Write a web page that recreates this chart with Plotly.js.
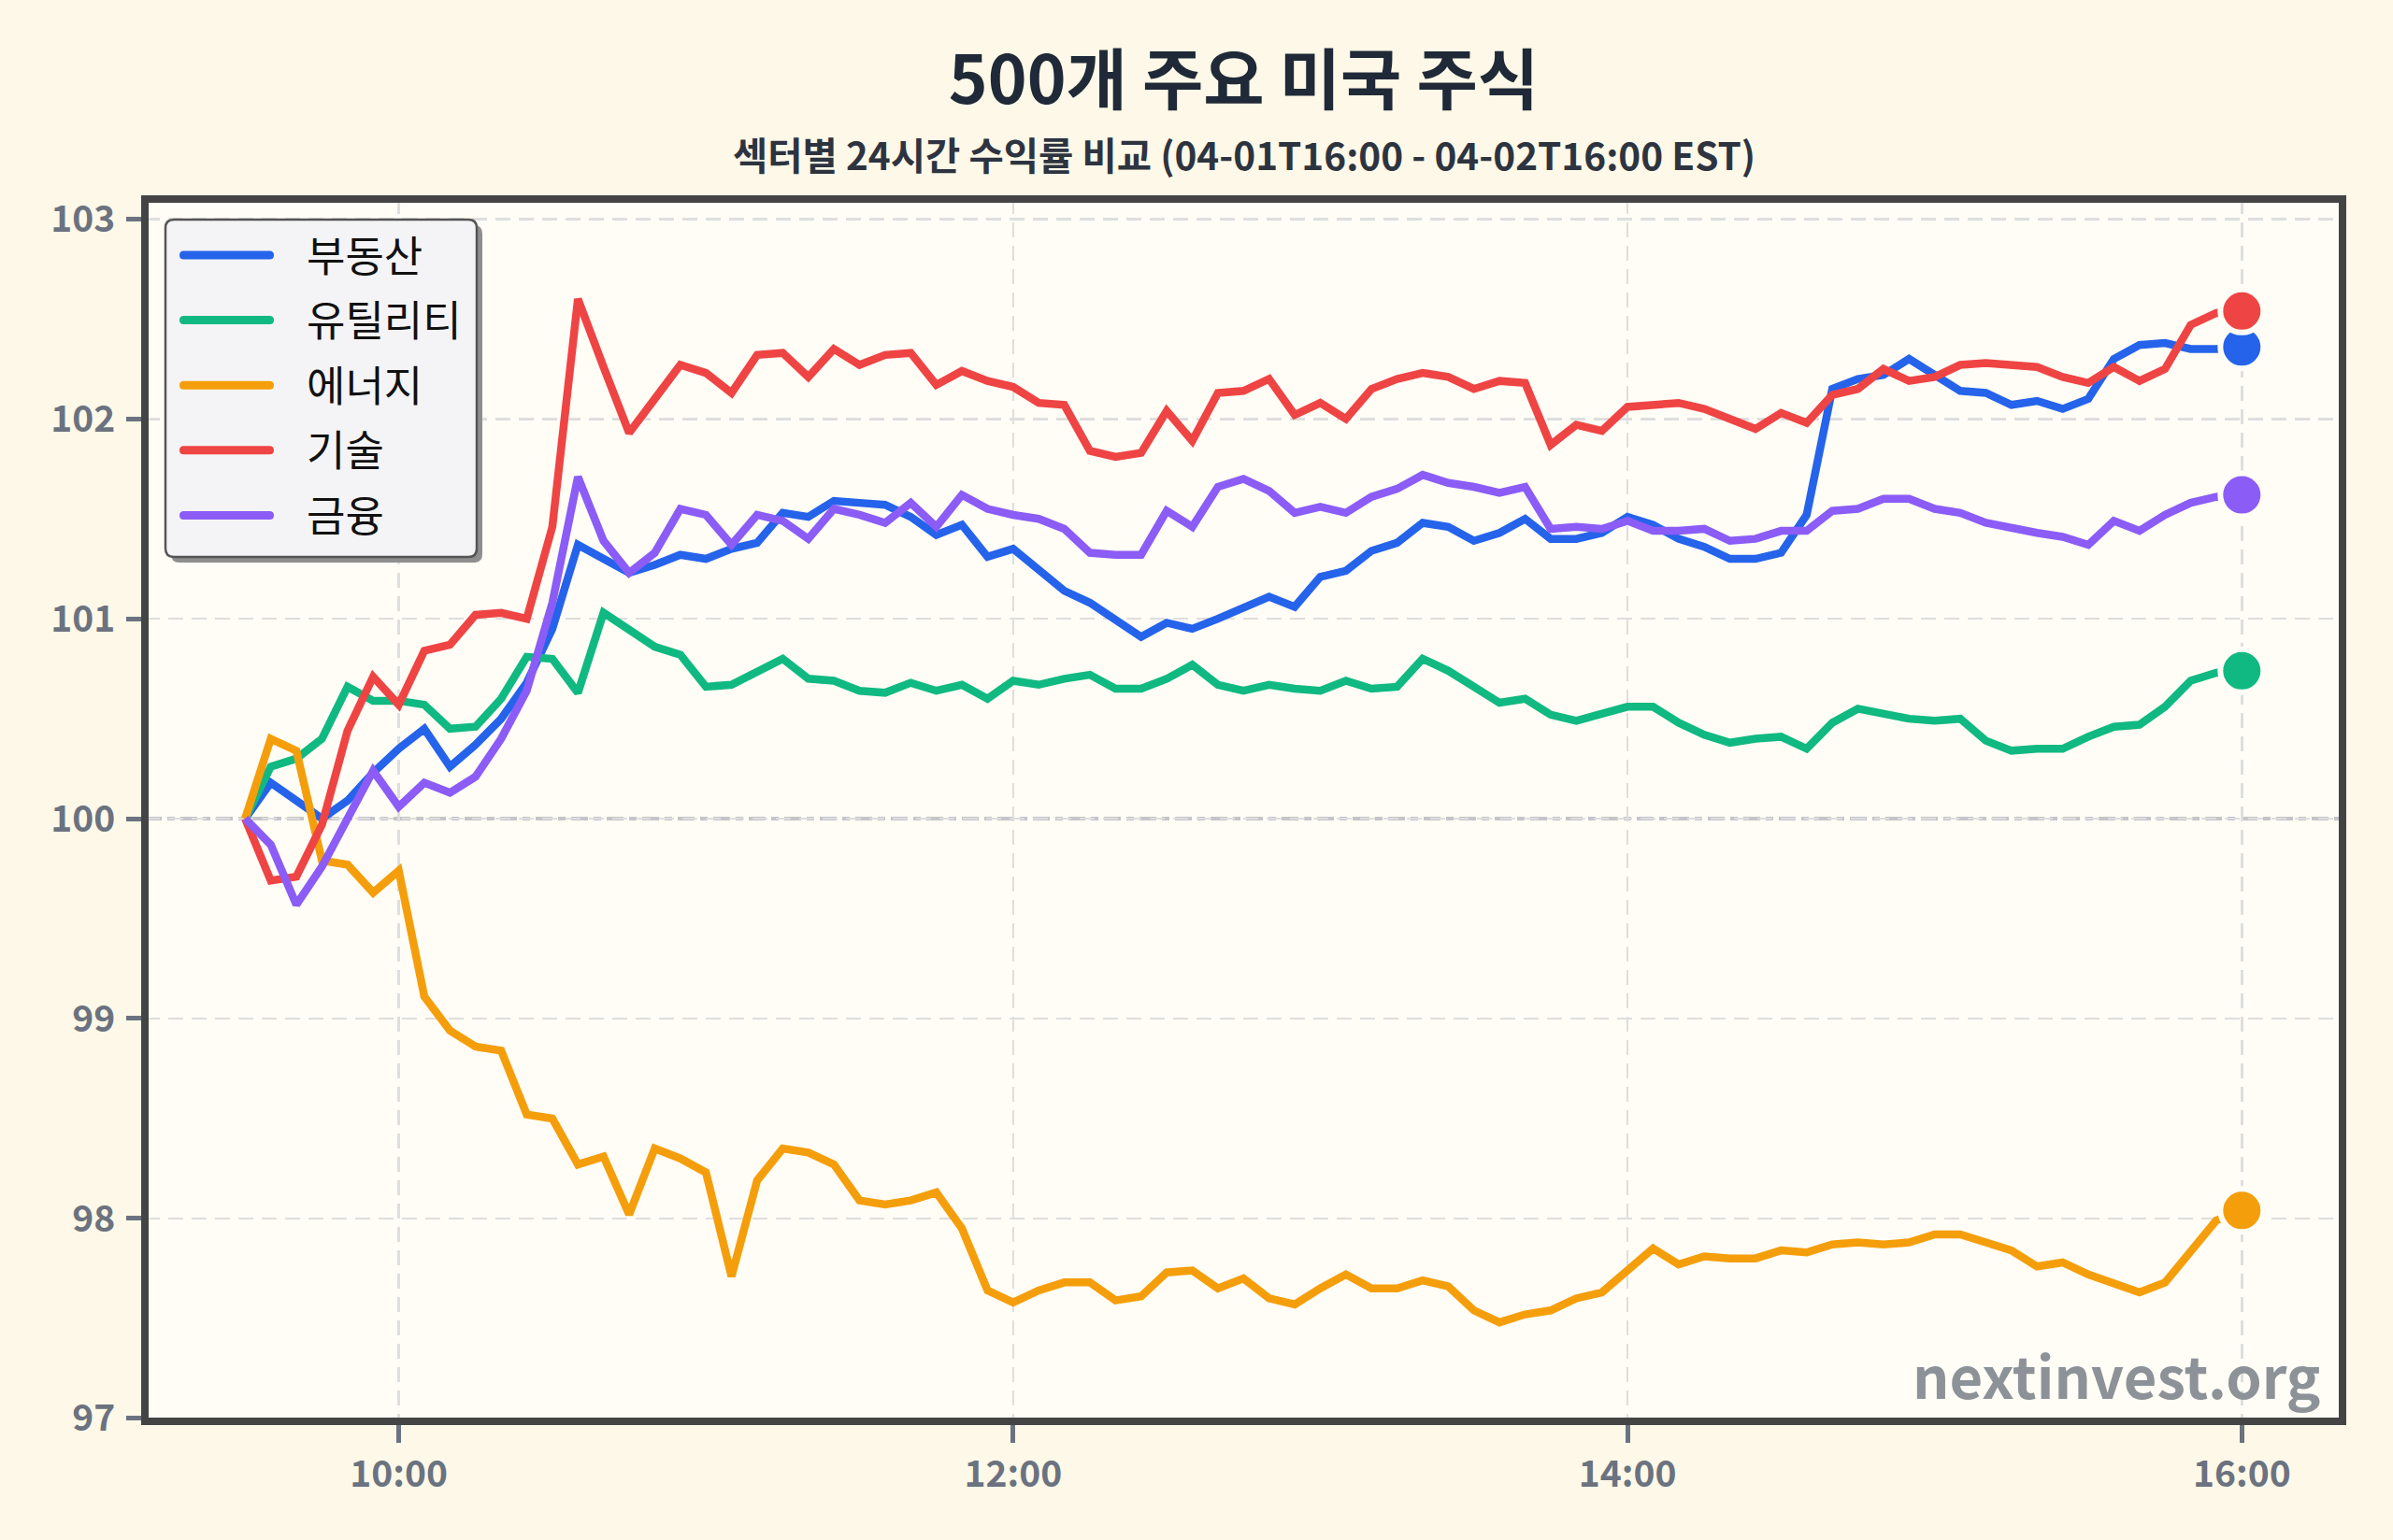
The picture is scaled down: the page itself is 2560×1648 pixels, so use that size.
<!DOCTYPE html>
<html>
<head>
<meta charset="utf-8">
<script src="https://cdn.plot.ly/plotly-3.0.1.min.js"></script>
<style>
  html, body { margin: 0; padding: 0; background: #fdf8e7; }
  #chart { width: 2560px; height: 1648px; }
</style>
</head>
<body>
<div id="chart"></div>
<script>
const DAY = "2025-04-02";
const times = [
  "09:30","09:35","09:40","09:45","09:50","09:55","10:00","10:05","10:10","10:15",
  "10:20","10:25","10:30","10:35","10:40","10:45","10:50","10:55","11:00","11:05",
  "11:10","11:15","11:20","11:25","11:30","11:35","11:40","11:45","11:50","11:55",
  "12:00","12:05","12:10","12:15","12:20","12:25","12:30","12:35","12:40","12:45",
  "12:50","12:55","13:00","13:05","13:10","13:15","13:20","13:25","13:30","13:35",
  "13:40","13:45","13:50","13:55","14:00","14:05","14:10","14:15","14:20","14:25",
  "14:30","14:35","14:40","14:45","14:50","14:55","15:00","15:05","15:10","15:15",
  "15:20","15:25","15:30","15:35","15:40","15:45","15:50","15:55","16:00"
];

const seriesNames = ["부동산", "유틸리티", "에너지", "기술", "금융"];
const seriesColors = ["#2563eb", "#10b981", "#f59e0b", "#ef4444", "#8b5cf6"];

const realEstate = [
  100.00,100.18,100.09,100.00,100.09,100.23,100.35,100.45,100.26,100.37,
  100.50,100.68,100.95,101.37,101.30,101.23,101.27,101.32,101.30,101.35,
  101.38,101.53,101.51,101.59,101.58,101.57,101.51,101.42,101.47,101.31,
  101.35,101.24,101.14,101.08,101.00,100.91,100.98,100.95,101.00,101.05,
  101.11,101.06,101.21,101.24,101.34,101.38,101.48,101.46,101.39,101.43,
  101.50,101.40,101.40,101.43,101.51,101.47,101.40,101.36,101.30,101.30,
  101.33,101.52,102.15,102.20,102.22,102.30,102.22,102.14,102.13,102.07,
  102.09,102.05,102.10,102.30,102.37,102.38,102.35,102.35,102.36
];
const utilities = [
  100.00,100.26,100.30,100.40,100.66,100.59,100.59,100.57,100.45,100.46,
  100.60,100.81,100.80,100.63,101.03,100.94,100.86,100.82,100.66,100.67,
  100.74,100.80,100.70,100.69,100.64,100.63,100.68,100.64,100.67,100.60,
  100.69,100.67,100.70,100.72,100.65,100.65,100.70,100.77,100.67,100.64,
  100.67,100.65,100.64,100.69,100.65,100.66,100.80,100.74,100.66,100.58,
  100.60,100.52,100.49,100.52,100.56,100.56,100.48,100.42,100.38,100.40,
  100.41,100.35,100.48,100.55,100.52,100.50,100.49,100.50,100.39,100.34,
  100.35,100.35,100.41,100.46,100.47,100.56,100.69,100.73,100.74
];
const energy = [
  100.00,100.40,100.34,99.79,99.77,99.63,99.74,99.11,98.94,98.86,
  98.84,98.52,98.50,98.27,98.31,98.02,98.35,98.30,98.23,97.71,
  98.19,98.35,98.33,98.27,98.09,98.07,98.09,98.13,97.95,97.64,
  97.58,97.64,97.68,97.68,97.59,97.61,97.73,97.74,97.65,97.70,
  97.60,97.57,97.65,97.72,97.65,97.65,97.69,97.66,97.54,97.48,
  97.52,97.54,97.60,97.63,97.74,97.85,97.77,97.81,97.80,97.80,
  97.84,97.83,97.87,97.88,97.87,97.88,97.92,97.92,97.88,97.84,
  97.76,97.78,97.72,97.68,97.63,97.68,97.84,97.99,98.04
];
const tech = [
  100.00,99.69,99.71,99.97,100.44,100.71,100.57,100.84,100.87,101.02,
  101.03,101.00,101.46,102.60,102.26,101.93,102.10,102.27,102.23,102.13,
  102.32,102.33,102.21,102.35,102.27,102.32,102.33,102.17,102.24,102.19,
  102.16,102.08,102.07,101.84,101.81,101.83,102.04,101.89,102.13,102.14,
  102.20,102.02,102.08,102.00,102.15,102.20,102.23,102.21,102.15,102.19,
  102.18,101.87,101.97,101.94,102.06,102.07,102.08,102.05,102.00,101.95,
  102.03,101.98,102.12,102.15,102.25,102.19,102.21,102.27,102.28,102.27,
  102.26,102.21,102.18,102.26,102.19,102.25,102.47,102.53,102.54
];
const finance = [
  100.00,99.87,99.57,99.76,100.00,100.24,100.06,100.18,100.13,100.21,
  100.40,100.64,101.08,101.71,101.39,101.23,101.33,101.55,101.52,101.37,
  101.52,101.49,101.40,101.55,101.52,101.48,101.58,101.46,101.62,101.55,
  101.52,101.50,101.45,101.33,101.32,101.32,101.54,101.46,101.66,101.70,
  101.64,101.53,101.56,101.53,101.61,101.65,101.72,101.68,101.66,101.63,
  101.66,101.45,101.46,101.45,101.49,101.44,101.44,101.45,101.39,101.40,
  101.44,101.44,101.54,101.55,101.60,101.60,101.55,101.53,101.48,101.45,
  101.43,101.41,101.37,101.49,101.44,101.52,101.58,101.61,101.62
];
const seriesValues = [realEstate, utilities, energy, tech, finance];

const xTickLabels = ["10:00", "12:00", "14:00", "16:00"];
const yTickValues = [97, 98, 99, 100, 101, 102, 103];

const titleText = "500개 주요 미국 주식";
const subtitleText = "섹터별 24시간 수익률 비교 (04-01T16:00 - 04-02T16:00 EST)";
const watermarkText = "nextinvest.org";

// ---- layout geometry (pixels) ----
const W = 2560, H = 1648;
const PL = 155, PR = 2506, PT = 213, PB = 1521;
const px = v => (v - PL) / (PR - PL);
const py = v => (PB - v) / (PB - PT);

const FONT = '"Noto Sans CJK KR", "Noto Sans", sans-serif';
const PAPER_BG = "#fdf8e7";
const PLOT_BG = "#fffdf6";

const xs = times.map(t => DAY + " " + t);

const traces = [];
seriesNames.forEach((name, k) => {
  traces.push({
    type: "scatter", mode: "lines", name: name, showlegend: false,
    x: xs, y: seriesValues[k],
    line: { color: seriesColors[k], width: 8.5 },
    hoverinfo: "skip"
  });
});
seriesNames.forEach((name, k) => {
  const vals = seriesValues[k];
  traces.push({
    type: "scatter", mode: "markers", name: name, showlegend: false,
    x: [xs[xs.length - 1]], y: [vals[vals.length - 1]],
    marker: { color: seriesColors[k], size: 46, line: { color: PLOT_BG, width: 6 } },
    cliponaxis: false, hoverinfo: "skip"
  });
});

// rounded rectangle path in paper coordinates from pixel corners
function roundRect(x0, y0, x1, y1, r) {
  const X = v => px(v), Y = v => py(v);
  return "M" + X(x0 + r) + "," + Y(y0) +
    " L" + X(x1 - r) + "," + Y(y0) +
    " Q" + X(x1) + "," + Y(y0) + " " + X(x1) + "," + Y(y0 + r) +
    " L" + X(x1) + "," + Y(y1 - r) +
    " Q" + X(x1) + "," + Y(y1) + " " + X(x1 - r) + "," + Y(y1) +
    " L" + X(x0 + r) + "," + Y(y1) +
    " Q" + X(x0) + "," + Y(y1) + " " + X(x0) + "," + Y(y1 - r) +
    " L" + X(x0) + "," + Y(y0 + r) +
    " Q" + X(x0) + "," + Y(y0) + " " + X(x0 + r) + "," + Y(y0) + " Z";
}

const LB = { x0: 177, y0: 235, x1: 510, y1: 596 };
const LEG_ROW0 = 273, LEG_STEP = 69.6, LEG_LX0 = 192, LEG_LX1 = 293, LEG_TX = 326, LEG_LW = 9;

const shapes = [
  { type: "line", xref: "paper", yref: "y", x0: 0, x1: 1, y0: 100, y1: 100,
    line: { color: "#c4c4c9", width: 4, dash: "18px,6px,8px,6px" }, layer: "between" },
  { type: "path", xref: "paper", yref: "paper", path: roundRect(LB.x0 + 6, LB.y0 + 6, LB.x1 + 6, LB.y1 + 6, 9),
    fillcolor: "#8e8e8e", line: { width: 0 }, layer: "above" },
  { type: "path", xref: "paper", yref: "paper", path: roundRect(LB.x0, LB.y0, LB.x1, LB.y1, 9),
    fillcolor: "#f4f4f6", line: { color: "#555555", width: 2.5 }, layer: "above" },
  { type: "rect", xref: "paper", yref: "paper", x0: 0, x1: 1, y0: 0, y1: 1,
    line: { color: "#444444", width: 8 }, fillcolor: "rgba(0,0,0,0)", layer: "above" }
];

const annotations = [
  { text: subtitleText, xref: "paper", yref: "paper", x: 0.5, y: py(164),
    xanchor: "center", yanchor: "middle", showarrow: false,
    font: { family: FONT, size: 40.5, weight: 700, color: "#2d3440" } },
  { text: watermarkText, xref: "paper", yref: "paper", x: px(2484), y: py(1470),
    xanchor: "right", yanchor: "middle", showarrow: false,
    font: { family: FONT, size: 61.5, weight: 700, color: "#8c9297" } }
];

// legend entries (drawn from names/colors arrays)
seriesNames.forEach((name, k) => {
  const cy = LEG_ROW0 + k * LEG_STEP;
  shapes.push({
    type: "path", xref: "paper", yref: "paper",
    path: roundRect(LEG_LX0, cy - LEG_LW / 2, LEG_LX1, cy + LEG_LW / 2, LEG_LW / 2),
    fillcolor: seriesColors[k], line: { width: 0 }, layer: "above"
  });
  annotations.push({
    text: name, xref: "paper", yref: "paper", x: px(LEG_TX), y: py(cy - 2),
    xanchor: "left", yanchor: "middle", showarrow: false,
    font: { family: FONT, size: 45, color: "#111111" }
  });
});

const layout = {
  width: W, height: H,
  paper_bgcolor: PAPER_BG, plot_bgcolor: PLOT_BG,
  margin: { l: PL, r: W - PR, t: PT, b: H - PB, pad: 0 },
  font: { family: FONT, color: "#1f2937" },
  showlegend: false,
  title: {
    text: titleText, xref: "paper", x: 0.5, xanchor: "center",
    yref: "container", y: 1 - 86 / H, yanchor: "middle",
    font: { family: FONT, size: 71, weight: 700, color: "#1f2937" }
  },
  annotations: annotations,
  xaxis: {
    type: "date",
    range: [DAY + " 09:10:25", DAY + " 16:19:40"],
    tickvals: xTickLabels.map(t => DAY + " " + t), ticktext: xTickLabels,
    ticks: "outside", ticklen: 22, tickwidth: 5, tickcolor: "#6b7280",
    tickfont: { family: FONT, size: 39, weight: 700, color: "#6b7280" },
    showgrid: true, gridcolor: "#dedede", gridwidth: 2.5, griddash: "16px,9px",
    showline: false, zeroline: false, fixedrange: true
  },
  yaxis: {
    range: [96.985, 103.1],
    tickvals: yTickValues, ticktext: yTickValues.map(String),
    ticks: "outside", ticklen: 19, tickwidth: 5, tickcolor: "#6b7280",
    ticklabelstandoff: 4,
    tickfont: { family: FONT, size: 39, weight: 700, color: "#6b7280" },
    showgrid: true, gridcolor: "#dedede", gridwidth: 2.5, griddash: "16px,9px",
    showline: false, zeroline: false, fixedrange: true
  },
  shapes: shapes
};

Plotly.newPlot("chart", traces, layout, { staticPlot: true, displayModeBar: false });
</script>
</body>
</html>
